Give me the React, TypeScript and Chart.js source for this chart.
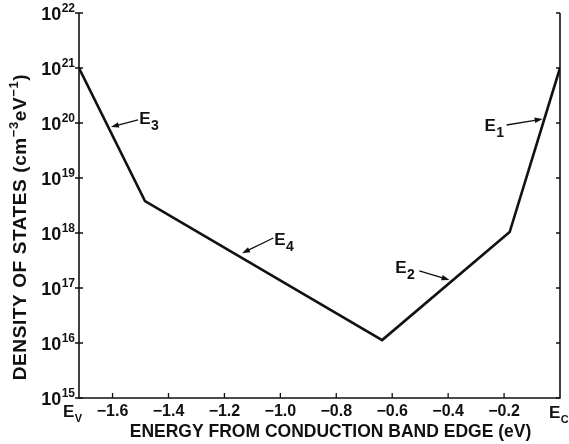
import React, { useEffect, useRef } from "react";
import { Chart, registerables } from "chart.js";

Chart.register(...registerables);

// ---- data ----
const energyEV = [-1.72, -1.484, -0.636, -0.18, 0];
const densityStates = [1e21, 3.8e18, 1.13e16, 1.04e18, 1e21];

const X_MIN = -1.72;
const X_MAX = 0;
const Y_MIN = 1e15;
const Y_MAX = 1e22;

const xTickValues = [-1.6, -1.4, -1.2, -1.0, -0.8, -0.6, -0.4, -0.2];
const xTickLabels = ["−1.6", "−1.4", "−1.2", "−1.0", "−0.8", "−0.6", "−0.4", "−0.2"];
const yTickValues = [1e15, 1e16, 1e17, 1e18, 1e19, 1e20, 1e21, 1e22];
const yTickExponents = ["15", "16", "17", "18", "19", "20", "21", "22"];

const edgeLabelSubs = ["V", "C"];
const edgeLabelX = [X_MIN, X_MAX];

// annotations: E1..E4 with arrows (data coordinates)
const annoSubs = ["1", "2", "3", "4"];
const annoTextX = [-0.27, -0.589, -1.505, -1.022];
const annoTextY = [7.2e19, 1.9e17, 9.5e19, 6.1e17];
const arrowFromX = [-0.191, -0.503, -1.509, -1.025];
const arrowFromY = [9.2e19, 2.04e17, 1.14e20, 8.1e17];
const arrowToX = [-0.062, -0.395, -1.606, -1.137];
const arrowToY = [1.18e20, 1.4e17, 8.5e19, 4.3e17];

const xTitle = "ENERGY FROM CONDUCTION BAND EDGE (eV)";
const yTitleParts = [
  { t: "DENSITY OF STATES (cm", sup: false },
  { t: "−3", sup: true },
  { t: "eV", sup: false },
  { t: "−1", sup: true },
  { t: ")", sup: false },
];

const FONT = "'Liberation Sans', Arial, Helvetica, sans-serif";
const INK = "#111";

const overlayPlugin = {
  id: "overlay",
  afterDraw(chart: any) {
    const ctx = chart.ctx as CanvasRenderingContext2D;
    const xs = chart.scales.x;
    const ys = chart.scales.y;
    const a = chart.chartArea;
    ctx.save();
    ctx.strokeStyle = INK;
    ctx.fillStyle = INK;
    ctx.lineCap = "butt";

    // axis lines (left, bottom, right)
    ctx.lineWidth = 1.6;
    ctx.beginPath();
    ctx.moveTo(a.left, a.top);
    ctx.lineTo(a.left, a.bottom);
    ctx.lineTo(a.right, a.bottom);
    ctx.lineTo(a.right, a.top);
    ctx.stroke();

    // y ticks + labels
    ctx.lineWidth = 1.3;
    yTickValues.forEach((v, i) => {
      const py = ys.getPixelForValue(v);
      ctx.beginPath();
      ctx.moveTo(a.left - 4, py);
      ctx.lineTo(a.left + 4, py);
      ctx.moveTo(a.right - 4, py);
      ctx.lineTo(a.right, py);
      ctx.stroke();
      ctx.textBaseline = "alphabetic";
      ctx.textAlign = "left";
      ctx.font = `bold 12px ${FONT}`;
      const supW = ctx.measureText(yTickExponents[i]).width;
      ctx.font = `bold 18px ${FONT}`;
      const baseW = ctx.measureText("10").width;
      const xEnd = a.left - 4;
      ctx.fillText("10", xEnd - supW - baseW - 0.5, py + 6.5);
      ctx.font = `bold 12px ${FONT}`;
      ctx.fillText(yTickExponents[i], xEnd - supW, py - 1);
    });

    // x ticks + labels
    xTickValues.forEach((v, i) => {
      const px = xs.getPixelForValue(v);
      ctx.beginPath();
      ctx.moveTo(px, a.bottom);
      ctx.lineTo(px, a.bottom - 5);
      ctx.stroke();
      ctx.font = `bold 16px ${FONT}`;
      ctx.textAlign = "center";
      ctx.textBaseline = "alphabetic";
      ctx.fillText(xTickLabels[i], px, a.bottom + 17.5);
    });

    // E_V and E_C edge labels
    edgeLabelX.forEach((v, i) => {
      const px = xs.getPixelForValue(v);
      ctx.textAlign = "left";
      ctx.font = `bold 17px ${FONT}`;
      const eW = ctx.measureText("E").width;
      const x0 = i === 0 ? px - 16 : px - 11;
      const base = i === 0 ? a.bottom + 18.5 : a.bottom + 20;
      ctx.fillText("E", x0, base);
      ctx.font = `bold 11px ${FONT}`;
      ctx.fillText(edgeLabelSubs[i], x0 + eW + 0.5, base + 5);
    });

    // x title
    ctx.font = `bold 17.5px ${FONT}`;
    ctx.textAlign = "center";
    ctx.fillText(xTitle, (a.left + a.right) / 2 + 11, a.bottom + 39);

    // y title (rotated, with superscripts)
    ctx.save();
    ctx.translate(18.5, 227);
    ctx.rotate(-Math.PI / 2);
    (ctx as any).letterSpacing = "0.6px";
    let total = 0;
    yTitleParts.forEach((p) => {
      ctx.font = p.sup ? `bold 13px ${FONT}` : `bold 19px ${FONT}`;
      total += ctx.measureText(p.t).width;
    });
    let cx = -total / 2;
    ctx.textAlign = "left";
    yTitleParts.forEach((p) => {
      ctx.font = p.sup ? `bold 13px ${FONT}` : `bold 19px ${FONT}`;
      ctx.fillText(p.t, cx, p.sup ? -1 : 7);
      cx += ctx.measureText(p.t).width;
    });
    ctx.restore();

    // annotations E1..E4 with arrows
    annoSubs.forEach((s, i) => {
      const tx = xs.getPixelForValue(annoTextX[i]);
      const ty = ys.getPixelForValue(annoTextY[i]);
      ctx.textAlign = "left";
      ctx.font = `bold 17px ${FONT}`;
      const eW = ctx.measureText("E").width;
      ctx.fillText("E", tx, ty);
      ctx.font = `bold 14px ${FONT}`;
      ctx.fillText(s, tx + eW + 0.5, ty + 6);

      const x1 = xs.getPixelForValue(arrowFromX[i]);
      const y1 = ys.getPixelForValue(arrowFromY[i]);
      const x2 = xs.getPixelForValue(arrowToX[i]);
      const y2 = ys.getPixelForValue(arrowToY[i]);
      const ang = Math.atan2(y2 - y1, x2 - x1);
      const hl = 8;
      const hw = 2.8;
      ctx.lineWidth = 1.3;
      ctx.beginPath();
      ctx.moveTo(x1, y1);
      ctx.lineTo(x2 - Math.cos(ang) * hl * 0.8, y2 - Math.sin(ang) * hl * 0.8);
      ctx.stroke();
      ctx.beginPath();
      ctx.moveTo(x2, y2);
      ctx.lineTo(
        x2 - Math.cos(ang) * hl + Math.sin(ang) * hw,
        y2 - Math.sin(ang) * hl - Math.cos(ang) * hw
      );
      ctx.lineTo(
        x2 - Math.cos(ang) * hl - Math.sin(ang) * hw,
        y2 - Math.sin(ang) * hl + Math.cos(ang) * hw
      );
      ctx.closePath();
      ctx.fill();
    });

    ctx.restore();
  },
};

export default function App() {
  const canvasRef = useRef<HTMLCanvasElement | null>(null);

  useEffect(() => {
    const canvas = canvasRef.current;
    if (!canvas) return;
    const points = energyEV.map((x, i) => ({ x, y: densityStates[i] }));
    const chart = new Chart(canvas, {
      type: "line",
      data: {
        datasets: [
          {
            data: points,
            borderColor: INK,
            borderWidth: 2.6,
            pointRadius: 0,
            tension: 0,
            fill: false,
          },
        ],
      },
      options: {
        animation: false,
        responsive: false,
        devicePixelRatio: 1,
        layout: { padding: { left: 79, right: 9, top: 13, bottom: 46 } },
        plugins: {
          legend: { display: false },
          tooltip: { enabled: false },
          title: { display: false },
        },
        scales: {
          x: { type: "linear", min: X_MIN, max: X_MAX, display: false },
          y: { type: "logarithmic", min: Y_MIN, max: Y_MAX, display: false },
        },
      },
      plugins: [overlayPlugin],
    } as any);
    return () => chart.destroy();
  }, []);

  return (
    <div style={{ position: "absolute", left: 0, top: 0, width: 569, height: 444, background: "#fff" }}>
      <canvas ref={canvasRef} width={569} height={444} style={{ display: "block" }} />
    </div>
  );
}
